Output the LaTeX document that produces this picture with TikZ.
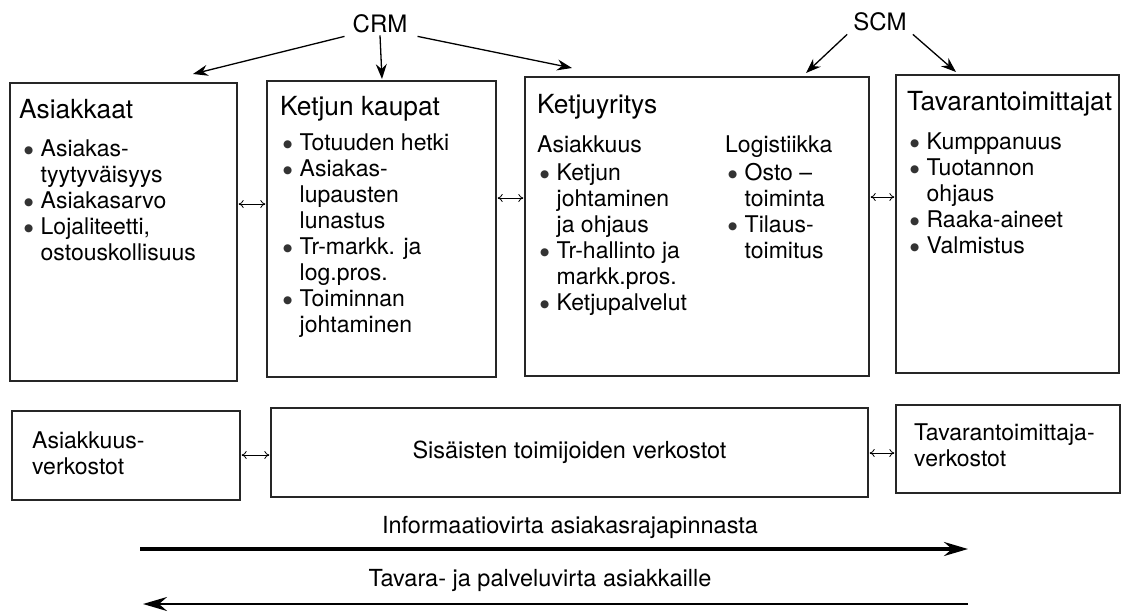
\documentclass[tikz,border=0pt]{standalone}
\usepackage{fontspec}
\setmainfont{TeX Gyre Heros}
\newfontfamily\dvs{DejaVu Sans}
\usetikzlibrary{arrows.meta,fit}
\newcommand{\bu}{\makebox[16.5pt][l]{\dvs\fontsize{10.5}{10.5}\selectfont\raisebox{2.6pt}{\textcolor{black!80}{●}}}}
\newcommand{\ci}{\hspace*{16.5pt}}
\begin{document}
\begin{tikzpicture}[x=1pt,y=-1pt,
  box/.style={draw=black!85, line width=1.3pt, inner sep=0pt},
  title/.style={font=\fontsize{26.3}{30}\selectfont, anchor=base west, inner sep=0pt},
  body/.style={font=\fontsize{23}{26}\selectfont, align=left, anchor=base west, inner sep=0pt},
  sub/.style={font=\fontsize{23}{26}\selectfont, anchor=base west, inner sep=0pt},
  lbl/.style={font=\fontsize{24}{28}\selectfont, inner sep=2pt},
  flow/.style={font=\fontsize{23.5}{28}\selectfont, inner sep=0pt},
  dbl/.style={{To[length=5pt,width=8pt]}-{To[length=5pt,width=8pt]}, line width=0.8pt, shorten <=1pt, shorten >=1pt},
  mg/.style={-{Stealth[length=15pt,width=11pt,inset=5pt]}, line width=1.3pt},
  fl/.style={-{Stealth[length=24pt,width=14pt,inset=8pt]}, line width=3.2pt}]
\useasboundingbox (0,0) rectangle (1124,613);
% top boxes
\node[box, fit={(10,83) (237,381)}] (b1) {};
\node[box, fit={(267,81) (496,377)}] (b2) {};
\node[box, fit={(525,77) (869,376)}] (b3) {};
\node[box, fit={(896,75) (1119,373)}] (b4) {};
% bottom boxes
\node[box, fit={(12,411) (240,500)}] (bA) {};
\node[box, fit={(271,408) (868,497)}] (bB) {};
\node[box, fit={(896,405) (1120,493)}] (bC) {};
% texts box 1 (body nodes anchored at the baseline of their last line)
\node[title] (t1) at (19,118) {Asiakkaat};
\node[body] (l1) at (24,260) {\bu Asiakas-\\ \ci tyytyväisyys\\ \bu Asiakasarvo\\ \bu Lojaliteetti,\\ \ci ostouskollisuus};
% box 2
\node[title] (t2) at (280,115) {Ketjun kaupat};
\node[body] (l2) at (283,332) {\bu Totuuden hetki\\ \bu Asiakas-\\ \ci lupausten\\ \ci lunastus\\ \bu Tr-markk. ja\\ \ci log.pros.\\ \bu Toiminnan\\ \ci johtaminen};
% box 3
\node[title] (t3) at (537,113) {Ketjuyritys};
\node[sub] (s3a) at (537,152) {Asiakkuus};
\node[sub] (s3b) at (725,152) {Logistiikka};
\node[body] (l3a) at (540,310) {\bu Ketjun\\ \ci johtaminen\\ \ci ja ohjaus\\ \bu Tr-hallinto ja\\ \ci markk.pros.\\ \bu Ketjupalvelut};
\node[body] (l3b) at (728,258) {\bu Osto --\\ \ci toiminta\\ \bu Tilaus-\\ \ci toimitus};
% box 4
\node[title] (t4) at (907,110) {Tavarantoimittajat};
\node[body] (l4) at (910,253) {\bu Kumppanuus\\ \bu Tuotannon\\ \ci ohjaus\\ \bu Raaka-aineet\\ \bu Valmistus};
% bottom texts
\node[body] (tA) at (32,474) {Asiakkuus-\\verkostot};
\node[flow] (tB) at (bB.center) {Sisäisten toimijoiden verkostot};
\node[body] (tC) at (914,466) {Tavarantoimittaja-\\verkostot};
% double arrows
\draw[dbl] (b1.east |- 0,204) -- (b2.west |- 0,204);
\draw[dbl] (b2.east |- 0,198) -- (b3.west |- 0,198);
\draw[dbl] (b3.east |- 0,197) -- (b4.west |- 0,197);
\draw[dbl] (bA.east |- 0,455) -- (bB.west |- 0,455);
\draw[dbl] (bB.east |- 0,453) -- (bC.west |- 0,453);
% CRM / SCM
\node[lbl] (crm) at (380,24) {CRM};
\node[lbl] (scm) at (880,22) {SCM};
\coordinate (crmL) at (193,74);
\coordinate (crmM) at (382,79);
\coordinate (crmR) at (572,68);
\coordinate (scmL) at (806,73);
\coordinate (scmR) at (956,72);
\draw[mg] ([xshift=-6pt,yshift=-1pt]crm.south west) -- (crmL);
\draw[mg] (crm.south) -- (crmM);
\draw[mg] ([xshift=8pt,yshift=-1pt]crm.south east) -- (crmR);
\draw[mg] ([xshift=-4pt,yshift=-1pt]scm.south west) -- (scmL);
\draw[mg] ([xshift=4pt,yshift=-1pt]scm.south east) -- (scmR);
% flows
\coordinate (i1) at (140,549);
\coordinate (i2) at (968,549);
\coordinate (f1) at (143,604);
\coordinate (f2) at (968,604);
\node[flow] (it) at (570,527) {Informaatiovirta asiakasrajapinnasta};
\node[flow] (ft) at (540,580) {Tavara- ja palveluvirta asiakkaille};
\draw[fl] (i1) -- (i2);
\draw[fl, line width=2.8pt] (f2) -- (f1);
\end{tikzpicture}
\end{document}
